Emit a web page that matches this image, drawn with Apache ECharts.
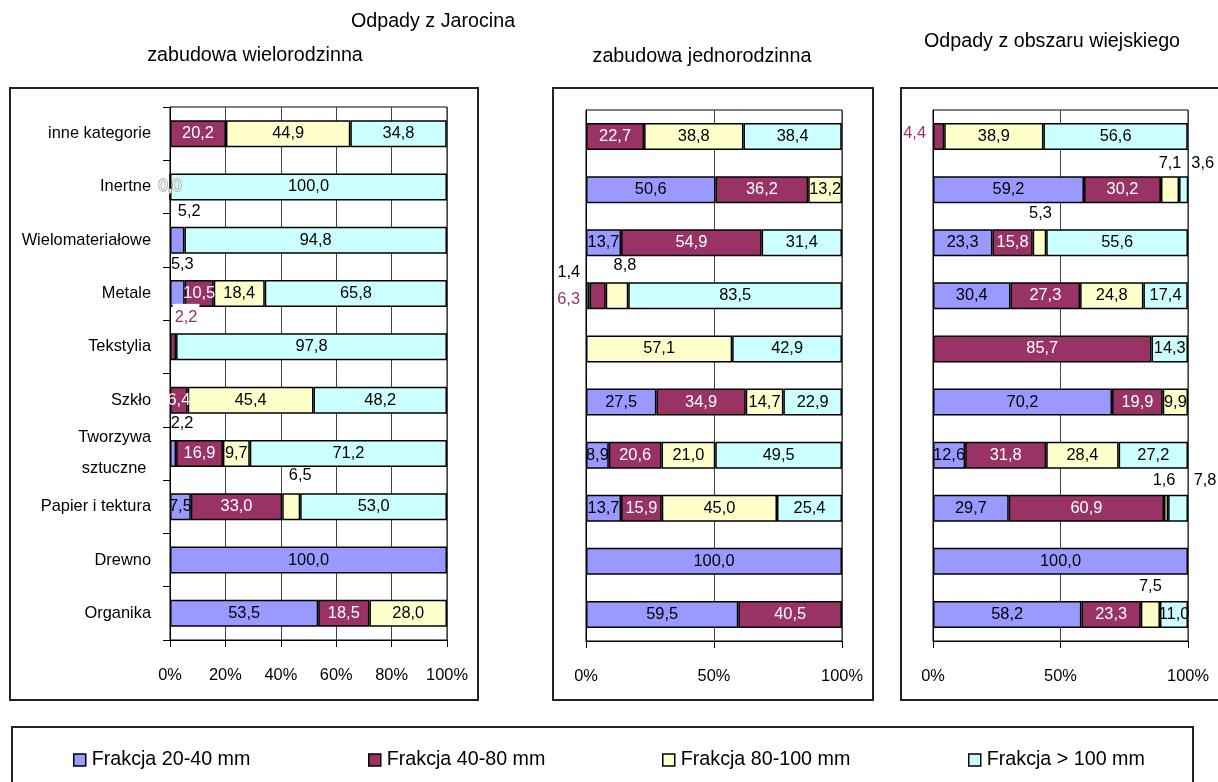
<!DOCTYPE html>
<html>
<head>
<meta charset="utf-8">
<script src="https://cdn.jsdelivr.net/npm/echarts@6/dist/echarts.min.js"></script>
<style>
  html, body { margin: 0; padding: 0; background: #fff; }
  #chart { width: 1218px; height: 782px; }
</style>
</head>
<body>
<div id="chart"></div>
<script>
// Waste categories, bottom to top on the category axis
const categories = ['Organika', 'Drewno', 'Papier i tektura', 'Tworzywa\nsztuczne ', 'Szkło',
  'Tekstylia', 'Metale', 'Wielomateriałowe', 'Inertne', 'inne kategorie'];

const fractionNames = ['Frakcja 20-40 mm', 'Frakcja 40-80 mm', 'Frakcja 80-100 mm', 'Frakcja > 100 mm'];

// Jarocin, multi-family housing (%)
const wielo_20_40  = [53.5, 100.0, 7.5, 2.2, 0, 0, 5.3, 5.2, 0.0, 0];
const wielo_40_80  = [18.5, 0, 33.0, 16.9, 6.4, 2.2, 10.5, 0, 0, 20.2];
const wielo_80_100 = [28.0, 0, 6.5, 9.7, 45.4, 0, 18.4, 0, 0, 44.9];
const wielo_100    = [0, 0, 53.0, 71.2, 48.2, 97.8, 65.8, 94.8, 100.0, 34.8];

// Jarocin, single-family housing (%)
const jedno_20_40  = [59.5, 100.0, 13.7, 8.9, 27.5, 0, 1.4, 13.7, 50.6, 0];
const jedno_40_80  = [40.5, 0, 15.9, 20.6, 34.9, 0, 6.3, 54.9, 36.2, 22.7];
const jedno_80_100 = [0, 0, 45.0, 21.0, 14.7, 57.1, 8.8, 0, 13.2, 38.8];
const jedno_100    = [0, 0, 25.4, 49.5, 22.9, 42.9, 83.5, 31.4, 0, 38.4];

// Rural area (%)
const wies_20_40  = [58.2, 100.0, 29.7, 12.6, 70.2, 0, 30.4, 23.3, 59.2, 0];
const wies_40_80  = [23.3, 0, 60.9, 31.8, 19.9, 85.7, 27.3, 15.8, 30.2, 4.4];
const wies_80_100 = [7.5, 0, 1.6, 28.4, 9.9, 0, 24.8, 5.3, 7.1, 38.9];
const wies_100    = [11.0, 0, 7.8, 27.2, 0, 14.3, 17.4, 55.6, 3.6, 56.6];

const xTicksWielo = 20;
const xTicksOther = 50;

// ---------------------------------------------------------------- styling
function hasFont(name) {
  const ctx = document.createElement('canvas').getContext('2d');
  const s = 'mmmmmmmmmmlli1WWabc0123';
  ctx.font = '40px monospace';
  const a = ctx.measureText(s).width;
  ctx.font = '40px "' + name + '", monospace';
  const b = ctx.measureText(s).width;
  return Math.abs(a - b) > 0.5;
}
const NARROW = hasFont('Liberation Sans Narrow');
const FONT = NARROW ? '"Liberation Sans Narrow", "Liberation Sans", Arial, sans-serif'
                    : '"Liberation Sans", Arial, sans-serif';
const K = NARROW ? 1 : 0.82;
const fs = n => Math.round(n * K * 10) / 10;

const colors = ['#9999FF', '#993366', '#FFFFCC', '#CCFFFF'];
const labelColors = ['#000', '#fff', '#000', '#000'];
const MAGENTA = '#993366';

const panels = [
  { series: [wielo_20_40, wielo_40_80, wielo_80_100, wielo_100], interval: xTicksWielo,
    grid: { left: 170, top: 107, width: 277, height: 533 }, showCats: true },
  { series: [jedno_20_40, jedno_40_80, jedno_80_100, jedno_100], interval: xTicksOther,
    grid: { left: 586, top: 110, width: 256, height: 531 }, showCats: false },
  { series: [wies_20_40, wies_40_80, wies_80_100, wies_100], interval: xTicksOther,
    grid: { left: 933, top: 110, width: 255, height: 531 }, showCats: false }
];

// Labels of thin segments sit beside their bars: key = panel-series-category
const labelTweaks = {
  '0-0-8': { offset: [0, 0], hollow: true },
  '0-0-7': { offset: [12, -29] },
  '0-0-6': { offset: [5, -29] },
  '0-1-5': { offset: [13, -29], color: MAGENTA, box: true },
  '0-0-3': { offset: [9, -30] },
  '0-2-2': { offset: [9, -31] },
  '1-0-6': { offset: [-19, -23] },
  '1-1-6': { offset: [-29, 4], color: MAGENTA },
  '1-2-6': { offset: [8, -30] },
  '2-1-9': { offset: [-24, -3], color: MAGENTA },
  '2-2-8': { offset: [0, -26] },
  '2-3-8': { offset: [19, -26] },
  '2-2-7': { offset: [1, -29] },
  '2-2-2': { offset: [-2, -28] },
  '2-3-2': { offset: [27, -28] },
  '2-2-0': { offset: [0, -28] }
};

const fmt = v => (typeof v === 'number' ? v.toFixed(1).replace('.', ',') : '');

const grids = [], xAxes = [], yAxes = [], series = [];
panels.forEach((p, pi) => {
  grids.push(Object.assign({ show: true, borderColor: '#000', borderWidth: 1,
    backgroundColor: 'transparent', containLabel: false }, p.grid));
  xAxes.push({
    type: 'value', gridIndex: pi, min: 0, max: 100, interval: p.interval,
    axisLine: { show: true, lineStyle: { color: '#000', width: 1 } },
    axisTick: { show: true, length: 7, lineStyle: { color: '#000' } },
    splitLine: { show: true, lineStyle: { color: '#444', width: 1 } },
    axisLabel: { formatter: '{value}%', margin: 27, color: '#000',
      fontFamily: FONT, fontSize: fs(20) }
  });
  yAxes.push({
    type: 'category', gridIndex: pi, data: categories,
    axisLine: { show: true, lineStyle: { color: '#000', width: 1 } },
    axisTick: { show: p.showCats, length: 7, lineStyle: { color: '#000' } },
    splitLine: { show: false },
    axisLabel: { show: p.showCats, margin: 19, color: '#000', fontFamily: FONT,
      fontSize: fs(20), lineHeight: 31, align: 'right' }
  });
  p.series.forEach((vals, si) => {
    series.push({
      type: 'bar', name: fractionNames[si], stack: 'panel' + pi,
      xAxisIndex: pi, yAxisIndex: pi, barWidth: 27,
      itemStyle: { color: colors[si], borderColor: '#000', borderWidth: 1.5 },
      label: {
        show: true, position: 'inside', color: labelColors[si],
        fontFamily: FONT, fontSize: fs(20),
        formatter: prm => fmt(prm.value)
      },
      emphasis: { disabled: true },
      data: vals.map((v, ci) => {
        const tw = labelTweaks[pi + '-' + si + '-' + ci];
        if (!tw) return v > 0 ? v : '-';
        const lab = { offset: tw.offset };
        if (tw.color) lab.color = tw.color;
        if (tw.hollow) { lab.color = '#fff'; lab.textBorderColor = '#999'; lab.textBorderWidth = 1.5; }
        if (tw.box) { lab.backgroundColor = '#fff'; lab.padding = [6, 2]; }
        return { value: v, label: lab };
      })
    });
  });
});

// one legend per entry so each sits at its own spot in the shared frame
const legendLefts = [68, 363, 657, 963];
const legends = fractionNames.map((n, i) => ({
  data: [n], left: legendLefts[i], top: 745, icon: 'rect',
  itemWidth: 12, itemHeight: 12, itemGap: 0, selectedMode: false,
  itemStyle: { borderColor: '#000', borderWidth: 1.5 },
  textStyle: { color: '#000', fontFamily: FONT, fontSize: fs(24), padding: [0, 0, 0, 1] }
}));

const textEl = (txt, x, y) => ({
  type: 'text', x: x, y: y, silent: true,
  style: { text: txt, fill: '#000', font: fs(24) + 'px ' + FONT,
    textAlign: 'center', textVerticalAlign: 'middle' }
});
const frame = (x, y, w, h) => ({
  type: 'rect', silent: true, z: -1,
  shape: { x: x, y: y, width: w, height: h },
  style: { fill: 'none', stroke: '#222', lineWidth: 2 }
});

const option = {
  animation: false,
  backgroundColor: '#fff',
  grid: grids, xAxis: xAxes, yAxis: yAxes, series: series,
  legend: legends,
  graphic: [
    frame(10, 88, 468, 612),
    frame(553, 88, 320, 612),
    frame(901, 88, 340, 612),
    frame(12, 727, 1181, 80),
    textEl('Odpady z Jarocina', 433, 22),
    textEl('zabudowa wielorodzinna', 255, 56),
    textEl('zabudowa jednorodzinna', 702, 57),
    textEl('Odpady z obszaru wiejskiego', 1052, 42)
  ]
};

const chart = echarts.init(document.getElementById('chart'), null, { renderer: 'canvas' });
chart.setOption(option);
</script>
</body>
</html>
